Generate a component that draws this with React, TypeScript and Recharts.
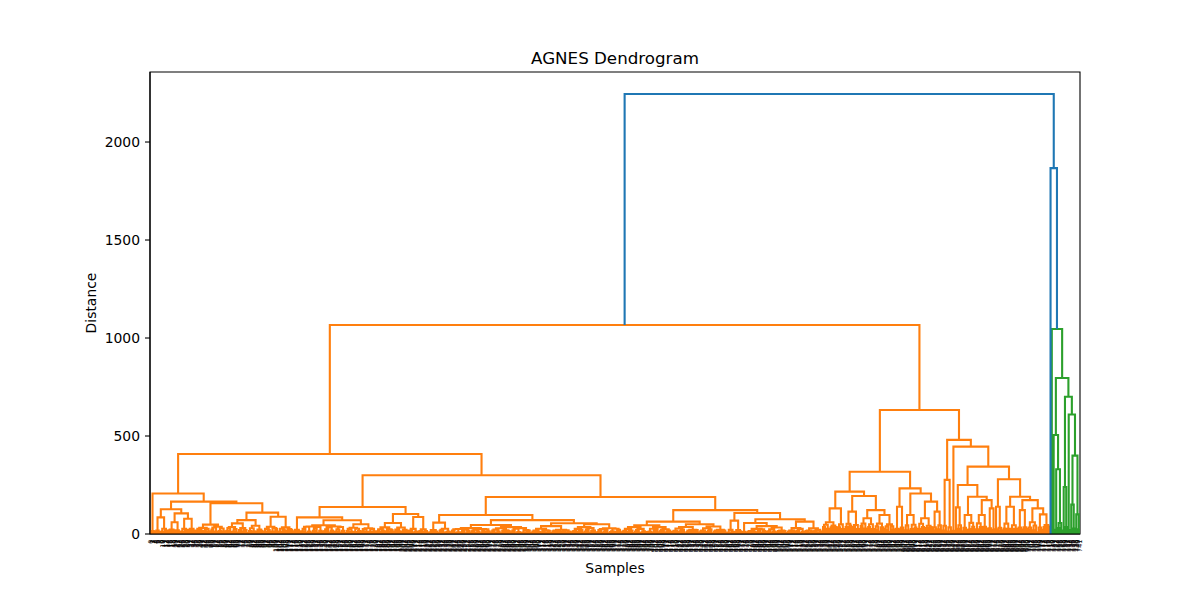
import { LineChart, Line, XAxis, YAxis, ReferenceArea } from "recharts";

// A node is [merge distance, left, right]; a bare number is a low tuft of that many samples.
type Node = number | [number, Node, Node];

const MAX_DISTANCE = 2245;
const Y_TICKS = [0, 500, 1000, 1500, 2000];

const LEFT_GROUP: Node = [207, 4, [165, [126, [85, 4, 6], [105, [60, 6, 4], [78, 6, 6]]], [157, 24, [109, [71, [54, 10, 8], 12], [88, 12, 12]]]]];
const MID_LEFT_GROUP: Node = [138, [85, 6, [70, [45, 18, 18], [50, 12, 12]]], [102, [56, 14, 12], [87, 8, 8]]];
const MID_RIGHT_GROUP: Node = [189, [97, [58, 8, 10], [71, [46, [30, 16, 16], [35, 16, 16]], [55, [40, 16, 16], [50, 20, 20]]]], [122, [63, [45, 20, 20], [50, 22, 22]], [107, [68, 6, 6], [75, [56, 4, [40, 16, 16]], [63, 14, 14]]]]];
const RIGHT_LOW_GROUP: Node = [318, [216, [131, 12, 6], [194, [114, 6, 6], [122, [80, 6, 6], [97, 8, 8]]]], [233, [139, 4, 4], [207, [97, 4, 6], [165, [80, 6, 6], [114, 4, 4]]]]];
const RIGHT_HIGH_GROUP: Node = [480, [276, 4, 4], [446, 2, [344, [250, [136, 2, 4], [190, [97, 4, 6], [173, [97, 6, 4], [131, 4, 2]]]], [279, [139, 2, 4], [190, [139, 6, 6], [173, [122, 4, 4], [131, 8, [100, 4, 6]]]]]]]];
const GREEN_GROUP: Node = [1046, 1, [796, [505, 2, [330, 2, 4]], [700, [240, 2, 2], [610, 2, [400, [150, 2, 2], [100, 2, 2]]]]]];

const TREE: Node = [MAX_DISTANCE, [1066, [408, LEFT_GROUP, [300, MID_LEFT_GROUP, MID_RIGHT_GROUP]], [633, RIGHT_LOW_GROUP, RIGHT_HIGH_GROUP]], [1867, 1, GREEN_GROUP]];

// height gained at each merge inside the low tufts, left to right, one list per group
const STEPS_LEFT = [
  7, 11, 4, 13, 8, 5, 10, 3, 12, 6, 9, 14, 5, 8, 11, 4, 7, 13, 6, 10,
  3, 9, 12, 5, 8, 14, 6, 11, 4, 7, 10, 13, 5, 9, 3, 12, 8, 6, 11, 4,
  9, 14, 7, 5, 10, 3, 12, 8, 6, 13, 4, 11, 7, 9, 5, 14, 10, 3, 8, 12,
  6, 4, 11, 9, 13, 5, 7, 10, 3, 12, 8, 6, 14, 4, 9, 11, 5, 7, 13, 10,
  3, 8, 12, 6, 9, 4, 11, 14, 5, 7, 10, 3, 13, 8, 6, 12, 4, 9, 11, 5,
  7,
];
const STEPS_MID_LEFT = [
  5, 9, 3, 11, 7, 4, 10, 6, 12, 3, 8, 5, 11, 7, 9, 4, 12, 6, 3, 10,
  8, 5, 11, 4, 7, 9, 3, 12, 6, 10, 5, 8, 4, 11, 7, 3, 9, 12, 6, 5,
  10, 4, 8, 11, 3, 7, 9, 6, 12, 5, 4, 10, 8, 3, 11, 7, 6, 9, 5, 12,
  3, 8, 10, 4, 7, 11, 6, 9, 3, 5, 12, 8, 4, 10, 7, 6, 11, 3, 9, 5,
  8, 12, 4, 6, 10, 3, 7, 11, 5, 9, 4, 8, 12, 6, 3, 10, 7, 5, 9,
];
const STEPS_MID_RIGHT = [
  4, 7, 2, 9, 5, 3, 8, 6, 10, 3, 5, 7, 2, 9, 4, 6, 8, 3, 10, 5,
  7, 2, 6, 9, 4, 8, 3, 5, 10, 6, 2, 7, 4, 9, 5, 3, 8, 6, 2, 10,
  5, 8, 3, 6, 9, 2, 7, 4, 10, 5, 3, 8, 6, 2, 9, 7, 4, 5, 10, 3,
  6, 9, 2, 8, 4, 7, 3, 10, 5, 6, 2, 9, 4, 8, 3, 7, 5, 10, 2, 6,
  8, 3, 5, 9, 2, 7, 6, 4, 10, 3, 8, 5, 2, 9, 6, 4, 7, 3, 10, 5,
  2, 7, 9, 4, 6, 3, 8, 5, 10, 2, 6, 9, 3, 7, 4, 8, 5, 2, 10, 6,
  9, 4, 3, 7, 5, 8, 2, 6, 10, 4, 7, 3, 9, 5, 2, 8, 6, 4, 10, 3,
  5, 8, 6, 2, 9, 4, 7, 3, 10, 6, 5, 2, 8, 4, 9, 3, 7, 6, 2, 10,
  4, 6, 9, 3, 7, 5, 2, 8, 10, 4, 6, 3, 9, 7, 2, 5, 8, 4, 10, 6,
  3, 8, 5, 7, 2, 9, 4, 6, 10, 3, 7, 5, 2, 8, 6, 9, 3, 4, 10, 7,
  6, 2, 8, 5, 9, 3, 7, 4, 10, 6, 2, 8, 5, 3, 9, 7, 4, 6, 10, 2,
  8, 5, 3, 9, 6, 2, 7, 4, 10, 8, 3, 5, 9, 6, 2, 4, 7, 8, 10, 3,
  5, 9, 4, 2, 7, 6, 8, 3, 10, 5, 9, 2, 6, 4, 8, 7, 3, 5, 10, 9,
  2, 6, 7, 4, 8, 3, 9, 5, 10, 2, 6, 8, 4, 7, 3, 9, 5, 6, 10, 4,
  7, 3, 8, 5, 9, 2, 6, 4, 10, 7, 3, 5, 8,
];
const STEPS_RIGHT_LOW = [
  14, 22, 8, 18, 11, 25, 9, 16, 20, 7, 13, 24, 10, 19, 6, 15, 23, 12, 17, 26,
  9, 21, 14, 7, 18, 11, 24, 16, 8, 20, 13, 25, 10, 6, 19, 15, 22, 9, 17, 12,
  26, 8, 14, 21, 11, 18, 7, 23, 16, 10, 20, 13, 6, 24, 15, 9, 19, 12, 25, 17,
  8, 22, 11, 14, 18, 7, 26, 10, 16, 21, 9, 13, 23, 6, 19, 12, 15, 24, 11, 20,
];
const STEPS_RIGHT_HIGH = [
  18, 9, 24, 13, 7, 21, 16, 11, 26, 8, 19, 14, 22, 10, 17, 6, 25, 12, 20, 15,
  9, 23, 13, 18, 7, 26, 11, 16, 21, 8, 14, 24, 10, 19, 12, 6, 22, 17, 9, 25,
  15, 11, 20, 7, 18, 13, 23, 10, 16, 26, 8, 21, 14, 12, 19, 9, 24, 17, 6, 22,
  11, 15, 20, 13, 25, 8,
];
const STEPS_GREEN = [22, 14, 30, 18, 26, 12, 35, 20, 16, 28, 24, 19];

const TUFT_STEPS = [...STEPS_LEFT, ...STEPS_MID_LEFT, ...STEPS_MID_RIGHT, ...STEPS_RIGHT_LOW, ...STEPS_RIGHT_HIGH, ...STEPS_GREEN];

const PALETTE = ["#ff7f0e", "#2ca02c", "#d62728", "#9467bd"];
const ABOVE_COLOR = "#1f77b4";
const COLOR_THRESHOLD = 0.7 * MAX_DISTANCE;
const FONT = "'DejaVu Sans', sans-serif";

type Link = { x1: number; x2: number; y1: number; y2: number; top: number; color: string };
type Pos = { x: number; h: number };

// scipy-style layout: leaf i sits at 10 * i + 5, a link sits over the middle of its children
function buildLinks(tree: Node) {
  const links: Link[] = [];
  let leaf = 0;
  let step = 0;
  let paletteIdx = 0;

  const tuft = (n: number, color: string, cap: number): Pos => {
    if (n === 1) {
      const x = leaf * 10 + 5;
      leaf += 1;
      return { x, h: 0 };
    }
    const k = Math.ceil(n / 2);
    const a = tuft(k, color, cap);
    const b = tuft(n - k, color, cap);
    const h = Math.min(Math.max(a.h, b.h) + (TUFT_STEPS[step++] ?? 6), cap);
    links.push({ x1: a.x, x2: b.x, y1: a.h, y2: b.h, top: h, color });
    return { x: (a.x + b.x) / 2, h };
  };

  const walk = (node: Node, inherited: string | null, cap: number): Pos => {
    if (typeof node === "number") {
      const c = inherited ?? (node > 1 ? PALETTE[paletteIdx++] : ABOVE_COLOR);
      return tuft(node, c, cap);
    }
    const [h, l, r] = node;
    let color: string;
    let pass: string | null;
    if (h >= COLOR_THRESHOLD) {
      color = ABOVE_COLOR;
      pass = null;
    } else {
      color = inherited ?? PALETTE[paletteIdx++];
      pass = color;
    }
    const a = walk(l, pass, h * 0.85);
    const b = walk(r, pass, h * 0.85);
    links.push({ x1: a.x, x2: b.x, y1: a.h, y2: b.h, top: h, color });
    return { x: (a.x + b.x) / 2, h };
  };

  walk(tree, null, Infinity);
  return { links, leafCount: leaf };
}

const { links, leafCount } = buildLinks(TREE);
const X_MAX = leafCount * 10;
const Y_MAX = MAX_DISTANCE * 1.05;
const LEAF_TICKS = Array.from({ length: leafCount }, (_, i) => i * 10 + 5);

const pointsFor = (color: string) =>
  links
    .filter((l) => l.color === color)
    .flatMap((l) => [
      { x: l.x1, y: l.y1 },
      { x: l.x1, y: l.top },
      { x: l.x2, y: l.top },
      { x: l.x2, y: l.y2 },
      { x: l.x2, y: null },
    ]);

const SERIES = [PALETTE[0], PALETTE[1], ABOVE_COLOR].map((color) => ({ color, data: pointsFor(color) }));

function LeafTick(props: any) {
  const { x, y, payload } = props;
  const label = String((payload.value - 5) / 10);
  return (
    <text
      x={x}
      y={y}
      transform={`rotate(-90 ${x} ${y})`}
      textAnchor="end"
      dy="0.35em"
      fontSize={6.5}
      fill="#000"
      fontFamily={FONT}
    >
      {label}
    </text>
  );
}

export default function App() {
  return (
    <div style={{ position: "absolute", left: 0, top: 0, width: 1200, height: 600, background: "#fff", fontFamily: FONT }}>
      <LineChart width={1200} height={600} margin={{ top: 72, right: 120, bottom: 26, left: 90 }}>
        <XAxis
          type="number"
          dataKey="x"
          domain={[0, X_MAX]}
          ticks={LEAF_TICKS}
          interval={0}
          allowDataOverflow
          tickLine={false}
          tickSize={0}
          tickMargin={5.5}
          height={40}
          axisLine={{ stroke: "#000", strokeWidth: 1.1 }}
          tick={<LeafTick />}
        />
        <YAxis
          type="number"
          domain={[0, Y_MAX]}
          ticks={Y_TICKS}
          allowDataOverflow
          width={60}
          tickSize={5}
          tickMargin={5}
          tickLine={{ stroke: "#000", strokeWidth: 1.1 }}
          axisLine={{ stroke: "#000", strokeWidth: 1.1 }}
          tick={{ fill: "#000", fontSize: 13.9, fontFamily: FONT }}
        />
        <ReferenceArea x1={0} x2={X_MAX} y1={0} y2={Y_MAX} fill="none" fillOpacity={0} stroke="#000" strokeWidth={1.1} />
        {SERIES.map((s) => (
          <Line
            key={s.color}
            data={s.data}
            dataKey="y"
            type="linear"
            stroke={s.color}
            strokeWidth={2.1}
            dot={false}
            activeDot={false}
            connectNulls={false}
            isAnimationActive={false}
          />
        ))}
      </LineChart>
      <svg width={1200} height={600} style={{ position: "absolute", left: 0, top: 0, pointerEvents: "none" }}>
        <text x={615} y={63.7} textAnchor="middle" fontSize={16.7} fill="#000" fontFamily={FONT}>
          AGNES Dendrogram
        </text>
        <text x={615} y={573} textAnchor="middle" fontSize={13.9} fill="#000" fontFamily={FONT}>
          Samples
        </text>
        <text x={96} y={303} transform="rotate(-90 96 303)" textAnchor="middle" fontSize={13.9} fill="#000" fontFamily={FONT}>
          Distance
        </text>
      </svg>
    </div>
  );
}
